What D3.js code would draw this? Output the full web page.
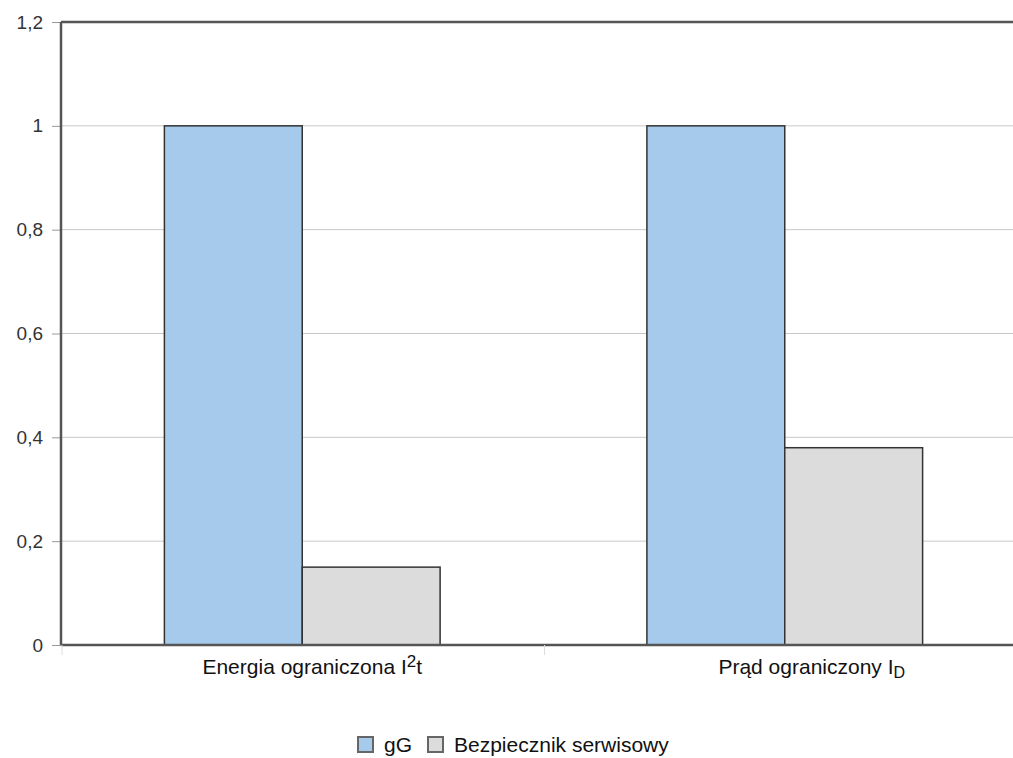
<!DOCTYPE html>
<html><head><meta charset="utf-8">
<script src="https://cdn.jsdelivr.net/npm/d3@7"></script>
<style>body{margin:0;background:#fff;} text{font-family:"Liberation Sans",Arial,sans-serif;}</style>
</head><body><svg id="c" width="1013" height="758"></svg>
<script>
const categories = ["Energia ograniczona", "Prąd ograniczony"];
const series = ["gG", "Bezpiecznik serwisowy"];
const gG = [1, 1];
const serwisowy = [0.15, 0.38];
const yTicks = [0, 0.2, 0.4, 0.6, 0.8, 1, 1.2];
const colors = ["#a6caec", "#dcdcdc"];

const svg = d3.select("#c");
const L = 61, T = 22, R = 1026, B = 645;
const x = d3.scaleBand().domain(categories).range([L, R]).paddingInner(0).paddingOuter(0);
const xs = d3.scaleBand().domain(series).range([0, x.bandwidth()]).paddingInner(0).paddingOuter(0.75);
const y = d3.scaleLinear().domain([0, 1.2]).range([B, T]);

// gridlines + y axis
const ya = svg.append("g").attr("transform", `translate(${L},0)`)
  .call(d3.axisLeft(y).tickValues(yTicks).tickSize(9).tickPadding(9).tickFormat(d => d3.format("")(d).replace(".", ",")));
ya.select(".domain").remove();
ya.selectAll(".tick line").attr("stroke", "#999");
ya.selectAll(".tick text").attr("font-size", 19).attr("fill", "#333");
svg.append("g").selectAll("line").data(yTicks.filter(d => d > 0 && d < 1.2)).join("line")
  .attr("x1", L).attr("x2", 1013).attr("y1", d => y(d)).attr("y2", d => y(d))
  .attr("stroke", "#c8c8c8").attr("stroke-width", 1);

// bars
const data = categories.map((c, i) => ({c, vals: [gG[i], serwisowy[i]]}));
const g = svg.append("g");
data.forEach(d => {
  d.vals.forEach((v, j) => {
    g.append("rect")
      .attr("x", x(d.c) + xs(series[j])).attr("width", xs.bandwidth())
      .attr("y", y(v)).attr("height", y(0) - y(v))
      .attr("fill", colors[j]).attr("stroke", "#333").attr("stroke-width", 1.5);
  });
});

// frame
svg.append("line").attr("x1", L).attr("x2", 1013).attr("y1", T).attr("y2", T).attr("stroke", "#555").attr("stroke-width", 2.5);
svg.append("line").attr("x1", L).attr("x2", L).attr("y1", T).attr("y2", B).attr("stroke", "#555").attr("stroke-width", 2.5);
svg.append("line").attr("x1", L).attr("x2", 1013).attr("y1", B).attr("y2", B).attr("stroke", "#555").attr("stroke-width", 2.5);
// category ticks
svg.append("g").selectAll("line").data(categories).join("line")
  .attr("x1", d => x(d) + 1).attr("x2", d => x(d) + 1).attr("y1", B).attr("y2", B + 10).attr("stroke", "#ddd");

// category labels
const lab = svg.append("g").attr("font-size", 21).attr("fill", "#111");
const t1 = lab.append("text").attr("x", x(categories[0]) + x.bandwidth()/2 + 10).attr("y", 674).attr("text-anchor", "middle");
t1.append("tspan").text(categories[0] + " I");
t1.append("tspan").attr("dy", -7).attr("font-size", 17).text("2");
t1.append("tspan").attr("dy", 7).text("t");
const t2 = lab.append("text").attr("x", x(categories[1]) + x.bandwidth()/2 + 27).attr("y", 674).attr("text-anchor", "middle");
t2.append("tspan").text(categories[1] + " I");
t2.append("tspan").attr("dy", 4).attr("font-size", 16).text("D");

// legend
const leg = svg.append("g").attr("transform", "translate(358,737)");
const lx = [0, 70];
series.forEach((s, i) => {
  const gi = leg.append("g").attr("transform", `translate(${lx[i]},0)`);
  gi.append("rect").attr("width", 15).attr("height", 15).attr("fill", colors[i]).attr("stroke", "#666").attr("stroke-width", 2);
  gi.append("text").attr("x", 26).attr("y", 15).attr("font-size", 21).attr("fill", "#111").text(s);
});
</script></body></html>
